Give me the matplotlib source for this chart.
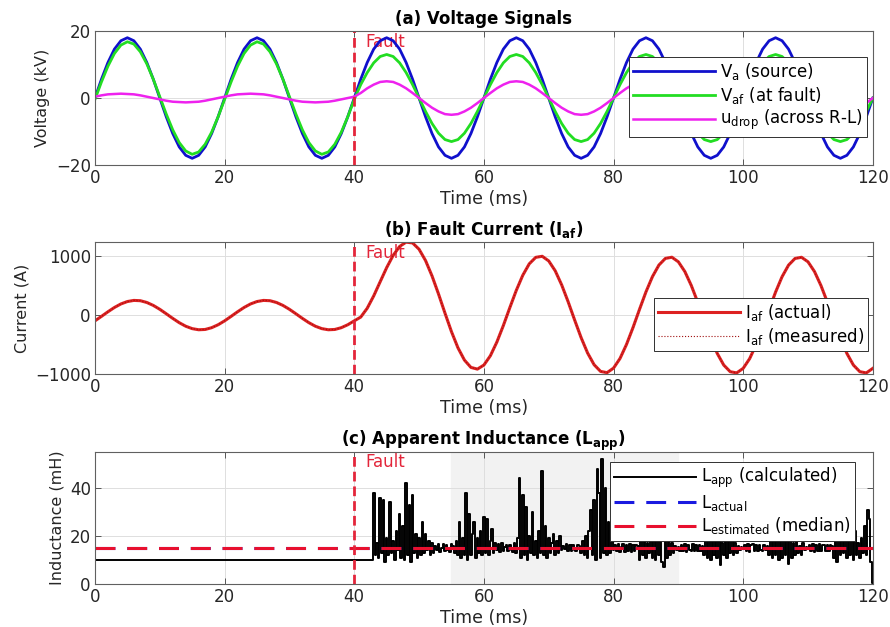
import numpy as np
import matplotlib.pyplot as plt

plt.rcParams['font.family'] = ['DejaVu Sans']
plt.rcParams['mathtext.default'] = 'regular'
plt.rcParams['mathtext.fontset'] = 'dejavusans'

# ---- data ----------------------------------------------------------------
# voltages and current: one sample per ms, 0..120 ms
t_ms = np.arange(0, 121)

va_kv = [
    0.0, 5.6, 10.6, 14.6, 17.1, 18.0, 17.1, 14.6, 10.6, 5.6, 0.0, -5.6, -10.6, -14.6, -17.1, -18.0, -17.1, -14.6, -10.6, -5.6,
    0.0, 5.6, 10.6, 14.6, 17.1, 18.0, 17.1, 14.6, 10.6, 5.6, 0.0, -5.6, -10.6, -14.6, -17.1, -18.0, -17.1, -14.6, -10.6, -5.6,
    0.0, 5.6, 10.6, 14.6, 17.1, 18.0, 17.1, 14.6, 10.6, 5.6, 0.0, -5.6, -10.6, -14.6, -17.1, -18.0, -17.1, -14.6, -10.6, -5.6,
    0.0, 5.6, 10.6, 14.6, 17.1, 18.0, 17.1, 14.6, 10.6, 5.6, 0.0, -5.6, -10.6, -14.6, -17.1, -18.0, -17.1, -14.6, -10.6, -5.6,
    0.0, 5.6, 10.6, 14.6, 17.1, 18.0, 17.1, 14.6, 10.6, 5.6, 0.0, -5.6, -10.6, -14.6, -17.1, -18.0, -17.1, -14.6, -10.6, -5.6,
    0.0, 5.6, 10.6, 14.6, 17.1, 18.0, 17.1, 14.6, 10.6, 5.6, 0.0, -5.6, -10.6, -14.6, -17.1, -18.0, -17.1, -14.6, -10.6, -5.6,
    0.0]

vaf_kv = [
    -0.4, 4.8, 9.5, 13.3, 15.8, 16.8, 16.1, 13.8, 10.2, 5.6, 0.4, -4.8, -9.5, -13.3, -15.8, -16.8, -16.1, -13.8, -10.2, -5.6,
    -0.4, 4.8, 9.5, 13.3, 15.8, 16.8, 16.1, 13.8, 10.2, 5.6, 0.4, -4.8, -9.5, -13.3, -15.8, -16.8, -16.1, -13.8, -10.2, -5.6,
    -0.4, 4.0, 7.6, 10.5, 12.4, 13.0, 12.4, 10.5, 7.6, 4.0, 0.0, -4.0, -7.6, -10.5, -12.4, -13.0, -12.4, -10.5, -7.6, -4.0,
    0.0, 4.0, 7.6, 10.5, 12.4, 13.0, 12.4, 10.5, 7.6, 4.0, 0.0, -4.0, -7.6, -10.5, -12.4, -13.0, -12.4, -10.5, -7.6, -4.0,
    0.0, 4.0, 7.6, 10.5, 12.4, 13.0, 12.4, 10.5, 7.6, 4.0, 0.0, -4.0, -7.6, -10.5, -12.4, -13.0, -12.4, -10.5, -7.6, -4.0,
    0.0, 4.0, 7.6, 10.5, 12.4, 13.0, 12.4, 10.5, 7.6, 4.0, 0.0, -4.0, -7.6, -10.5, -12.4, -13.0, -12.4, -10.5, -7.6, -4.0,
    0.0]

udrop_kv = [
    0.4, 0.8, 1.1, 1.2, 1.3, 1.2, 1.1, 0.8, 0.4, 0.0, -0.4, -0.8, -1.1, -1.2, -1.3, -1.2, -1.1, -0.8, -0.4, 0.0,
    0.4, 0.8, 1.1, 1.2, 1.3, 1.2, 1.1, 0.8, 0.4, 0.0, -0.4, -0.8, -1.1, -1.2, -1.3, -1.2, -1.1, -0.8, -0.4, 0.0,
    0.4, 1.5, 2.9, 4.0, 4.8, 5.0, 4.8, 4.0, 2.9, 1.5, 0.0, -1.5, -2.9, -4.0, -4.8, -5.0, -4.8, -4.0, -2.9, -1.5,
    0.0, 1.5, 2.9, 4.0, 4.8, 5.0, 4.8, 4.0, 2.9, 1.5, 0.0, -1.5, -2.9, -4.0, -4.8, -5.0, -4.8, -4.0, -2.9, -1.5,
    0.0, 1.5, 2.9, 4.0, 4.8, 5.0, 4.8, 4.0, 2.9, 1.5, 0.0, -1.5, -2.9, -4.0, -4.8, -5.0, -4.8, -4.0, -2.9, -1.5,
    0.0, 1.5, 2.9, 4.0, 4.8, 5.0, 4.8, 4.0, 2.9, 1.5, 0.0, -1.5, -2.9, -4.0, -4.8, -5.0, -4.8, -4.0, -2.9, -1.5,
    0.0]

iaf_a = [
    -98, -22, 56, 129, 189, 230, 249, 244, 214, 164, 98, 22, -56, -129, -189, -230, -249, -244, -214, -164,
    -98, -22, 56, 129, 189, 230, 249, 244, 214, 164, 98, 22, -56, -129, -189, -230, -249, -244, -214, -164,
    -98, -34, 116, 325, 566, 805, 1013, 1165, 1238, 1224, 1117, 925, 664, 358, 32, -282, -556, -764, -888, -917,
    -848, -690, -458, -178, 126, 420, 676, 870, 980, 998, 919, 752, 512, 225, -84, -383, -644, -842, -956, -977,
    -900, -736, -498, -213, 95, 393, 652, 849, 962, 982, 904, 739, 501, 215, -93, -391, -651, -848, -961, -981,
    -904, -739, -501, -215, 93, 391, 651, 848, 961, 981, 904, 739, 501, 215, -93, -391, -651, -848, -961, -981,
    -904]

# apparent inductance: flat before the jump, then one sample every 0.25 ms from 43 to 120 ms
lapp_pre_t = [0.0, 42.9]
lapp_pre = [10.0, 10.0]
lapp_noisy = [
    # 43.0 - 52.75
    38, 12, 17, 11, 36, 13, 35, 9, 19, 12, 34, 13, 18, 10, 22, 14, 29, 11, 24, 10,
    42, 12, 33, 9, 37, 13, 21, 11, 19, 12, 26, 13, 21, 14, 18, 12, 17, 13, 16, 14,
    # 53.0 - 55.0
    16.5, 13.5, 15, 16.5, 13.8, 16.2, 14, 13.5, 16.5,
    # 55.25 - 62.0
    16, 13, 18, 12, 26, 11, 19, 12, 38, 10, 29, 12, 21, 26, 11, 19, 13, 22, 12, 28,
    13, 27, 12, 18, 23, 13, 17, 14,
    # 62.25 - 64.5
    16.5, 13.5, 17, 13.8, 15.5, 16.3, 13.6, 16.4, 14, 13.5,
    # 64.75 - 72.5
    17, 13, 19, 44, 11, 37, 12, 32, 10, 20, 13, 30, 12, 18, 11, 22, 13, 47, 12, 24,
    11, 19, 13, 17, 21, 12, 18, 13, 20, 14, 16, 14.5,
    # 72.75 - 74.5
    16.5, 13.6, 16.2, 13.8, 16.4, 14, 13.7, 16.3,
    # 74.75 - 80.0
    16, 13, 18, 12, 20, 11, 22, 31, 12, 35, 10, 48, 38, 11, 52, 13, 40, 12, 26, 13,
    19, 14,
    # 80.25 - 83.5
    16.4, 13.6, 16.8, 13.2, 15.5, 16.6, 13.4, 16.2, 13.8, 16.5, 13.5, 16.1, 13.9, 16.3,
    # 83.75 - 90.0
    16, 10, 18, 12, 21, 11, 17, 13, 24, 11, 19, 10, 27, 12, 20, 9, 7, 22, 11, 18,
    12, 17, 13, 16, 14, 15.5,
    # 90.25 - 93.5
    13.6, 16.4, 13.8, 16.6, 13.4, 16.2, 14, 13.6, 16.5, 13.7, 16.3, 13.9, 16.2, 13.8,
    # 93.75 - 100.0
    16, 12, 19, 11, 22, 10, 18, 12, 25, 11, 20, 8, 17, 12, 23, 11, 18, 13, 20, 12,
    17, 13, 16, 14, 15.5, 14.5,
    # 100.25 - 103.5
    16.3, 13.7, 16.5, 13.5, 16.1, 16.6, 13.8, 16.2, 13.6, 16.4, 14, 13.7, 16.3, 14,
    # 103.75 - 110.0
    16, 12, 18, 11, 21, 12, 24, 10, 19, 11, 26, 12, 18, 8.5, 22, 11, 17, 12, 19, 13,
    16, 12, 17, 14, 15.5, 14.5,
    # 110.25 - 113.5
    16.2, 13.6, 16.6, 13.4, 16.3, 13.9, 16.5, 13.7, 16.1, 16.4, 13.6, 16.2, 13.8, 16.1,
    # 113.75 - 120.0
    16, 11, 19, 9, 21, 12, 24, 13, 31, 11, 20, 12, 18, 10, 22, 12, 17, 11, 19, 13,
    24, 12, 31, 27, 9, 0.5]
lapp_noisy_t = np.linspace(43.0, 120.0, len(lapp_noisy))

l_actual = 15.0     # mH
l_estimated = 15.0  # mH (median)
fault_ms = 40.0

# ---- figure ---------------------------------------------------------------
fig = plt.figure(figsize=(8.9, 6.27), dpi=100)
ax_a = fig.add_axes([0.1067, 0.7368, 0.874, 0.2137])
ax_b = fig.add_axes([0.1067, 0.4035, 0.874, 0.2105])
ax_c = fig.add_axes([0.1067, 0.0686, 0.874, 0.2105])

FAULT_RED = '#e3253a'


def habiller(ax, titre, ylab, ylim, yticks):
    """axes style a la matlab"""
    ax.set_xlim(0, 120)
    ax.set_ylim(*ylim)
    ax.set_xticks(range(0, 121, 20))
    ax.set_yticks(yticks)
    ax.tick_params(direction='in', top=True, right=True, length=4, width=0.6,
                   labelsize=12, labelcolor='#262626', color='#404040', pad=3)
    for s in ax.spines.values():
        s.set_color('#606060')
        s.set_linewidth(0.8)
    ax.grid(True, color='#dedede', lw=0.7)
    ax.set_axisbelow(True)
    ax.set_title(titre, fontsize=12, fontweight='bold', pad=5)
    ax.set_xlabel('Time (ms)', fontsize=12.5, color='#262626', labelpad=2)
    ax.set_ylabel(ylab, fontsize=11.5, color='#262626', labelpad=4)


def faute(ax, y_txt):
    ax.axvline(fault_ms, color=FAULT_RED, lw=2.0, dashes=(3.5, 1.8), zorder=2.5)
    ax.text(41.7, y_txt, 'Fault', color=FAULT_RED, fontsize=12, va='center', zorder=1)


def legende(ax, anchor):
    leg = ax.legend(loc='upper right', bbox_to_anchor=anchor, borderaxespad=0,
                    fontsize=12, handlelength=4.9, fancybox=False, framealpha=1,
                    edgecolor='#303030', labelspacing=0.15, borderpad=0.25,
                    handletextpad=0.3)
    leg.get_frame().set_linewidth(0.7)
    return leg


# (a) tensions
ax_a.plot(t_ms, va_kv, color='#1010cc', lw=2.0, label='V$_{a}$ (source)')
ax_a.plot(t_ms, vaf_kv, color='#22dd22', lw=2.0, label='V$_{af}$ (at fault)')
ax_a.plot(t_ms, udrop_kv, color='#ee22ee', lw=1.8, label='u$_{drop}$ (across R-L)')
faute(ax_a, 16.6)
habiller(ax_a, '(a) Voltage Signals', 'Voltage (kV)', (-20, 20), [-20, 0, 20])
legende(ax_a, (0.992, 0.806))

# (b) courant de defaut
ax_b.plot(t_ms, iaf_a, color='#dd2222', lw=2.2, label='I$_{af}$ (actual)')
ax_b.plot(t_ms, iaf_a, color='#a01010', lw=0.8, ls=':', label='I$_{af}$ (measured)')
faute(ax_b, 1050)
habiller(ax_b, '(b) Fault Current (I$_{\\mathbf{af}}$)', 'Current (A)', (-1000, 1240), [-1000, 0, 1000])
legende(ax_b, (0.994, 0.576))

# (c) inductance apparente
t_l = np.concatenate([lapp_pre_t, lapp_noisy_t])
l_l = np.concatenate([lapp_pre, lapp_noisy])
ax_c.axvspan(55, 90, color='#f2f2f2', zorder=0)
ax_c.plot(t_l, l_l, color='black', lw=1.4, drawstyle='steps-mid', label='L$_{app}$ (calculated)')
ax_c.axhline(l_actual, color='#1a1ae0', lw=2.2, dashes=(6.5, 3.9), label='L$_{actual}$')
ax_c.axhline(l_estimated, color='#e8102e', lw=2.2, dashes=(6.5, 3.9), label='L$_{estimated}$ (median)')
faute(ax_c, 51)
habiller(ax_c, '(c) Apparent Inductance (L$_{\\mathbf{app}}$)', 'Inductance (mH)', (0, 55), [0, 20, 40])
legende(ax_c, (0.977, 0.924))

fig.savefig('out.png', dpi=100)
